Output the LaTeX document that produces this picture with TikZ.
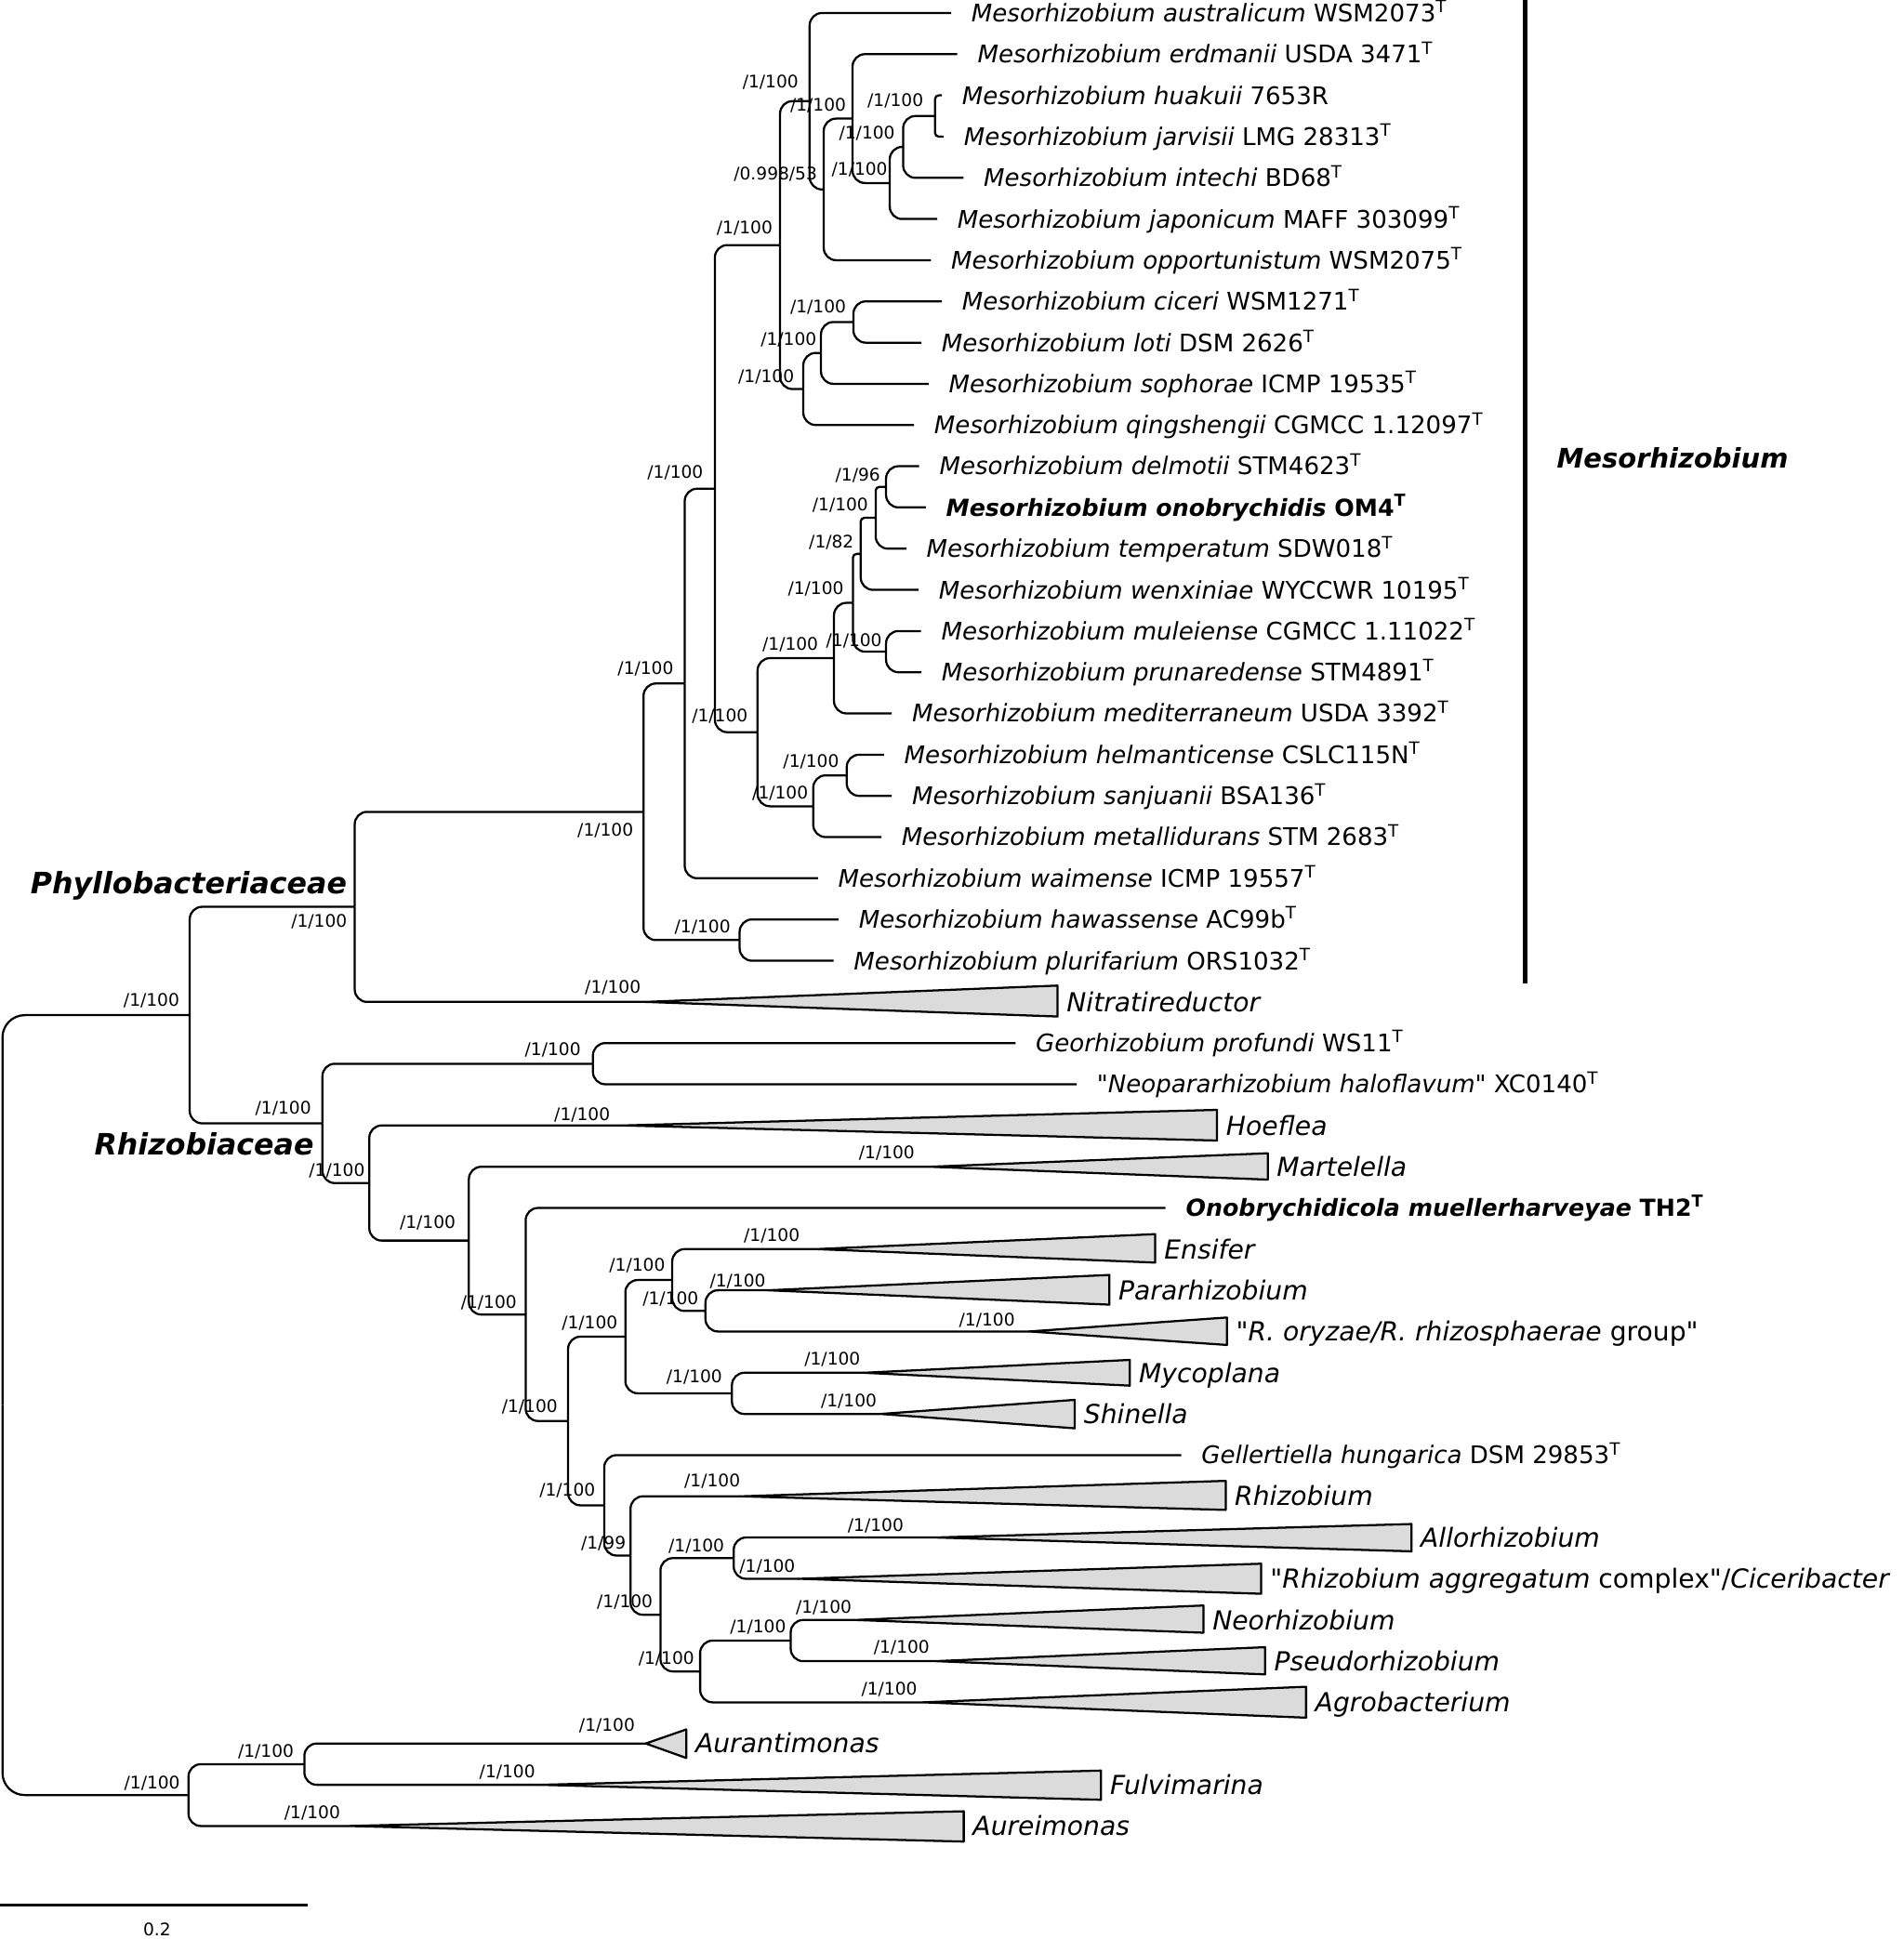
\documentclass[tikz,border=0pt]{standalone}
\usepackage{fontspec}
\setmainfont{DejaVu Sans}
\usetikzlibrary{positioning}

\tikzset{
  branch/.style={line width=0.85pt, rounded corners=5pt},
  twig/.style={line width=0.85pt, rounded corners=1.5pt},
  clade/.style={draw, line width=0.85pt, fill=black!14, line join=round},
  taxon/.style={anchor=west, inner sep=0pt, text height=7.1pt, text depth=0pt, font=\fontsize{9.8}{11}\selectfont},
  strongtaxon/.style={taxon, text height=6.9pt, font=\fontsize{9.5}{11}\selectfont\bfseries},
  cladetaxon/.style={taxon, text height=7.7pt, font=\fontsize{10.6}{12}\selectfont},
  support/.style={inner sep=0pt, text height=5.1pt, text depth=0pt, font=\fontsize{7}{8}\selectfont},
  family/.style={inner sep=0pt, text height=8.7pt, text depth=0pt, font=\fontsize{11.9}{14}\selectfont\bfseries\itshape}
}

% collapsed clade: name, apex x, y, right x, top y, bottom y
\newcommand{\collapsed}[6]{%
  \coordinate (#1) at (#2,#3);
  \coordinate (#1-end) at (#4,#3);
  \draw[clade] (#1) -- (#4,#5) -- (#4,#6) -- cycle;}

\begin{document}
\begin{tikzpicture}[x=0.5pt, y=-0.5pt]
\useasboundingbox (0,0) rectangle (1539,1568);

% internal nodes
\coordinate (root) at (2,1136.2);
\coordinate (n-fam) at (153.4,820.9);
\coordinate (n-phyllo) at (286.8,733.3);
\coordinate (n-meso) at (520.3,656.5);
\coordinate (n-mesoA) at (553.6,552.7);
\coordinate (n-haw) at (598,760.2);
\coordinate (n-mesoB) at (578,395.2);
\coordinate (n-up) at (630.7,198.2);
\coordinate (n-aus) at (654.6,81.8);
\coordinate (n-opp) at (666,153.2);
\coordinate (n-erd) at (689.3,95.9);
\coordinate (n-jap) at (719.4,148);
\coordinate (n-int) at (730.2,118.8);
\coordinate (n-hua) at (756,93.8);
\coordinate (n-qing) at (649.5,314.6);
\coordinate (n-soph) at (663.8,285.4);
\coordinate (n-cic) at (690,260.4);
\coordinate (n-low) at (612.5,592.1);
\coordinate (n-med) at (674.3,532.2);
\coordinate (n-ow) at (689.6,487.5);
\coordinate (n-wen) at (695.9,447.9);
\coordinate (n-tem) at (708,418.7);
\coordinate (n-del) at (716.4,393.7);
\coordinate (n-mul) at (716.4,527);
\coordinate (n-met) at (657.5,652);
\coordinate (n-hel) at (684.6,627);
\coordinate (n-rhizo) at (260.7,908.4);
\coordinate (n-geo) at (479.4,860.2);
\coordinate (n-hoe) at (298.6,956.7);
\coordinate (n-mar) at (379.1,1003.2);
\coordinate (n-ono) at (425,1063);
\coordinate (n-core) at (459.3,1149.1);
\coordinate (n-ens) at (505.6,1080.9);
\coordinate (n-ensA) at (543.5,1035.1);
\coordinate (n-par) at (570.4,1060.1);
\coordinate (n-myc) at (591.8,1126.7);
\coordinate (n-gel) at (488.5,1217.3);
\coordinate (n-rhz) at (509.8,1257.9);
\coordinate (n-all) at (534,1305.8);
\coordinate (n-allo) at (593.2,1260);
\coordinate (n-agro) at (566.1,1351.6);
\coordinate (n-neo) at (639.3,1326.7);
\coordinate (n-aur) at (152.4,1451.6);
\coordinate (n-aura) at (246.1,1426.6);

% tips
\coordinate (t1) at (769,10.5);
\coordinate (t2) at (774,43.8);
\coordinate (t3) at (761.5,77.1);
\coordinate (t4) at (763,110.5);
\coordinate (t5) at (779,143.8);
\coordinate (t6) at (757.7,177.1);
\coordinate (t7) at (752.7,210.4);
\coordinate (t8) at (761.5,243.7);
\coordinate (t9) at (745,277.1);
\coordinate (t10) at (750.8,310.4);
\coordinate (t11) at (739,343.7);
\coordinate (t12) at (743.2,377.0);
\coordinate (t13) at (748.5,410.3);
\coordinate (t14) at (732.7,443.7);
\coordinate (t15) at (742.7,477.0);
\coordinate (t16) at (744.7,510.3);
\coordinate (t17) at (745,543.6);
\coordinate (t18) at (721,576.9);
\coordinate (t19) at (714.7,610.3);
\coordinate (t20) at (721,643.6);
\coordinate (t21) at (712.6,676.9);
\coordinate (t22) at (661.3,710.2);
\coordinate (t23) at (678,743.5);
\coordinate (t24) at (674,776.9);
\coordinate (t26) at (821.1,843.5);
\coordinate (t27) at (870.5,876.8);
\coordinate (t30) at (942.4,976.8);
\coordinate (t36) at (955.1,1176.7);

% branches
\draw[branch, rounded corners=9pt] (root) |- (n-fam);
\draw[branch, rounded corners=9pt] (root) |- (n-aur);
\draw[branch] (n-fam) |- (n-phyllo);
\draw[branch] (n-fam) |- (n-rhizo);
\draw[branch] (n-phyllo) |- (n-meso);
\draw[branch] (n-meso) |- (n-mesoA);
\draw[branch] (n-meso) |- (n-haw);
\draw[branch] (n-haw) |- (t23);
\draw[branch] (n-haw) |- (t24);
\draw[branch] (n-mesoA) |- (n-mesoB);
\draw[branch] (n-mesoA) |- (t22);
\draw[branch] (n-mesoB) |- (n-up);
\draw[branch] (n-mesoB) |- (n-low);
\draw[branch] (n-up) |- (n-aus);
\draw[branch] (n-up) |- (n-qing);
\draw[branch] (n-aus) |- (t1);
\draw[branch] (n-aus) |- (n-opp);
\draw[branch] (n-opp) |- (n-erd);
\draw[branch] (n-opp) |- (t7);
\draw[branch] (n-erd) |- (t2);
\draw[branch] (n-erd) |- (n-jap);
\draw[branch] (n-jap) |- (n-int);
\draw[branch] (n-jap) |- (t6);
\draw[branch] (n-int) |- (n-hua);
\draw[branch] (n-int) |- (t5);
\draw[twig] (n-hua) |- (t3);
\draw[twig] (n-hua) |- (t4);
\draw[branch] (n-qing) |- (n-soph);
\draw[branch] (n-qing) |- (t11);
\draw[branch] (n-soph) |- (n-cic);
\draw[branch] (n-soph) |- (t10);
\draw[branch] (n-cic) |- (t8);
\draw[branch] (n-cic) |- (t9);
\draw[branch] (n-low) |- (n-med);
\draw[branch] (n-low) |- (n-met);
\draw[branch] (n-med) |- (n-ow);
\draw[branch] (n-med) |- (t18);
\draw[twig] (n-ow) |- (n-wen);
\draw[branch] (n-ow) |- (n-mul);
\draw[twig] (n-wen) |- (n-tem);
\draw[branch] (n-wen) |- (t15);
\draw[twig] (n-tem) |- (n-del);
\draw[branch] (n-tem) |- (t14);
\draw[branch] (n-del) |- (t12);
\draw[branch] (n-del) |- (t13);
\draw[branch] (n-mul) |- (t16);
\draw[branch] (n-mul) |- (t17);
\draw[branch] (n-met) |- (n-hel);
\draw[branch] (n-met) |- (t21);
\draw[branch] (n-hel) |- (t19);
\draw[branch] (n-hel) |- (t20);
\draw[branch] (n-rhizo) |- (n-geo);
\draw[branch] (n-rhizo) |- (n-hoe);
\draw[branch] (n-geo) |- (t26);
\draw[branch] (n-geo) |- (t27);
\draw[branch] (n-hoe) |- (n-mar);
\draw[branch] (n-mar) |- (n-ono);
\draw[branch] (n-ono) |- (t30);
\draw[branch] (n-ono) |- (n-core);
\draw[branch] (n-core) |- (n-ens);
\draw[branch] (n-core) |- (n-gel);
\draw[branch] (n-ens) |- (n-ensA);
\draw[branch] (n-ens) |- (n-myc);
\draw[branch] (n-ensA) |- (n-par);
\draw[branch] (n-gel) |- (t36);
\draw[branch] (n-gel) |- (n-rhz);
\draw[branch] (n-rhz) |- (n-all);
\draw[branch] (n-all) |- (n-allo);
\draw[branch] (n-all) |- (n-agro);
\draw[branch] (n-agro) |- (n-neo);
\draw[branch] (n-aur) |- (n-aura);

% collapsed clades
\collapsed{c25}{522}{810.2}{855}{797}{822}
\collapsed{c28}{504}{910.1}{984}{897.5}{922.3}
\collapsed{c29}{752}{943.5}{1025}{932.6}{953.9}
\collapsed{c31}{660}{1010.1}{934}{998}{1021}
\collapsed{c32}{621}{1043.4}{897}{1031}{1055}
\collapsed{c33}{832}{1076.7}{992}{1065.4}{1087.6}
\collapsed{c34}{698.5}{1110.1}{913.5}{1099.7}{1120.5}
\collapsed{c35}{712}{1143.4}{869}{1132}{1155}
\collapsed{c37}{599}{1210}{991}{1197.5}{1221}
\collapsed{c38}{756.5}{1243.3}{1141.3}{1232.4}{1254.5}
\collapsed{c39}{646.3}{1276.7}{1019.7}{1264.5}{1288.8}
\collapsed{c40}{691.4}{1310}{973}{1298.3}{1320.3}
\collapsed{c41}{756.5}{1343.3}{1022.8}{1332}{1354}
\collapsed{c42}{746.5}{1376.6}{1056}{1364}{1389}
\collapsed{c43}{522.1}{1409.9}{554.9}{1398.5}{1421.6}
\collapsed{c44}{437}{1443.3}{890.2}{1431.8}{1455.4}
\collapsed{c45}{281.8}{1476.6}{779.2}{1464.7}{1489.2}

\draw[branch] (n-phyllo) |- (c25);
\draw[branch] (n-hoe) |- (c28);
\draw[branch] (n-mar) |- (c29);
\draw[branch] (n-ensA) |- (c31);
\draw[branch] (n-par) |- (c32);
\draw[branch] (n-par) |- (c33);
\draw[branch] (n-myc) |- (c34);
\draw[branch] (n-myc) |- (c35);
\draw[branch] (n-rhz) |- (c37);
\draw[branch] (n-allo) |- (c38);
\draw[branch] (n-allo) |- (c39);
\draw[branch] (n-neo) |- (c40);
\draw[branch] (n-neo) |- (c41);
\draw[branch] (n-agro) |- (c42);
\draw[branch] (n-aura) |- (c43);
\draw[branch] (n-aura) |- (c44);
\draw[branch] (n-aur) |- (c45);

% taxon labels
\node[taxon, right=8pt of t1] (l1) {\textit{Mesorhizobium australicum} WSM2073\textsuperscript{T}};
\node[taxon, right=8pt of t2] (l2) {\textit{Mesorhizobium erdmanii} USDA 3471\textsuperscript{T}};
\node[taxon, right=8pt of t3] (l3) {\textit{Mesorhizobium huakuii} 7653R};
\node[taxon, right=8pt of t4] (l4) {\textit{Mesorhizobium jarvisii} LMG 28313\textsuperscript{T}};
\node[taxon, right=8pt of t5] (l5) {\textit{Mesorhizobium intechi} BD68\textsuperscript{T}};
\node[taxon, right=8pt of t6] (l6) {\textit{Mesorhizobium japonicum} MAFF 303099\textsuperscript{T}};
\node[taxon, right=8pt of t7] (l7) {\textit{Mesorhizobium opportunistum} WSM2075\textsuperscript{T}};
\node[taxon, right=8pt of t8] (l8) {\textit{Mesorhizobium ciceri} WSM1271\textsuperscript{T}};
\node[taxon, right=8pt of t9] (l9) {\textit{Mesorhizobium loti} DSM 2626\textsuperscript{T}};
\node[taxon, right=8pt of t10] (l10) {\textit{Mesorhizobium sophorae} ICMP 19535\textsuperscript{T}};
\node[taxon, right=8pt of t11] (l11) {\textit{Mesorhizobium qingshengii} CGMCC 1.12097\textsuperscript{T}};
\node[taxon, right=8pt of t12] (l12) {\textit{Mesorhizobium delmotii} STM4623\textsuperscript{T}};
\node[strongtaxon, right=8pt of t13] (l13) {\textit{Mesorhizobium onobrychidis} OM4\textsuperscript{T}};
\node[taxon, right=8pt of t14] (l14) {\textit{Mesorhizobium temperatum} SDW018\textsuperscript{T}};
\node[taxon, right=8pt of t15] (l15) {\textit{Mesorhizobium wenxiniae} WYCCWR 10195\textsuperscript{T}};
\node[taxon, right=8pt of t16] (l16) {\textit{Mesorhizobium muleiense} CGMCC 1.11022\textsuperscript{T}};
\node[taxon, right=8pt of t17] (l17) {\textit{Mesorhizobium prunaredense} STM4891\textsuperscript{T}};
\node[taxon, right=8pt of t18] (l18) {\textit{Mesorhizobium mediterraneum} USDA 3392\textsuperscript{T}};
\node[taxon, right=8pt of t19] (l19) {\textit{Mesorhizobium helmanticense} CSLC115N\textsuperscript{T}};
\node[taxon, right=8pt of t20] (l20) {\textit{Mesorhizobium sanjuanii} BSA136\textsuperscript{T}};
\node[taxon, right=8pt of t21] (l21) {\textit{Mesorhizobium metallidurans} STM 2683\textsuperscript{T}};
\node[taxon, right=8pt of t22] (l22) {\textit{Mesorhizobium waimense} ICMP 19557\textsuperscript{T}};
\node[taxon, right=8pt of t23] (l23) {\textit{Mesorhizobium hawassense} AC99b\textsuperscript{T}};
\node[taxon, right=8pt of t24] (l24) {\textit{Mesorhizobium plurifarium} ORS1032\textsuperscript{T}};
\node[cladetaxon, right=3.5pt of c25-end] (l25) {\textit{Nitratireductor}};
\node[taxon, right=8pt of t26] (l26) {\textit{Georhizobium profundi} WS11\textsuperscript{T}};
\node[taxon, right=8pt of t27] (l27) {\textquotedbl\textit{Neopararhizobium haloflavum}\textquotedbl\ XC0140\textsuperscript{T}};
\node[cladetaxon, right=3.5pt of c28-end] (l28) {\textit{Hoeflea}};
\node[cladetaxon, right=3.5pt of c29-end] (l29) {\textit{Martelella}};
\node[strongtaxon, right=8pt of t30] (l30) {\textit{Onobrychidicola muellerharveyae} TH2\textsuperscript{T}};
\node[cladetaxon, right=3.5pt of c31-end] (l31) {\textit{Ensifer}};
\node[cladetaxon, right=3.5pt of c32-end] (l32) {\textit{Pararhizobium}};
\node[cladetaxon, right=3.5pt of c33-end] (l33) {\textquotedbl\textit{R. oryzae/R. rhizosphaerae} group\textquotedbl};
\node[cladetaxon, right=3.5pt of c34-end] (l34) {\textit{Mycoplana}};
\node[cladetaxon, right=3.5pt of c35-end] (l35) {\textit{Shinella}};
\node[taxon, right=8pt of t36] (l36) {\textit{Gellertiella hungarica} DSM 29853\textsuperscript{T}};
\node[cladetaxon, right=3.5pt of c37-end] (l37) {\textit{Rhizobium}};
\node[cladetaxon, right=3.5pt of c38-end] (l38) {\textit{Allorhizobium}};
\node[cladetaxon, right=3.5pt of c39-end] (l39) {\textquotedbl\textit{Rhizobium aggregatum} complex\textquotedbl/\textit{Ciceribacter}};
\node[cladetaxon, right=3.5pt of c40-end] (l40) {\textit{Neorhizobium}};
\node[cladetaxon, right=3.5pt of c41-end] (l41) {\textit{Pseudorhizobium}};
\node[cladetaxon, right=3.5pt of c42-end] (l42) {\textit{Agrobacterium}};
\node[cladetaxon, right=3.5pt of c43-end] (l43) {\textit{Aurantimonas}};
\node[cladetaxon, right=3.5pt of c44-end] (l44) {\textit{Fulvimarina}};
\node[cladetaxon, right=3.5pt of c45-end] (l45) {\textit{Aureimonas}};

% support values
\node[support] (s-aus) at (623,66) {/1/100};
\node[support] (s-erd) at (661.5,85) {/1/100};
\node[support] (s-hua) at (724,80.7) {/1/100};
\node[support] (s-int) at (701,107) {/1/100};
\node[support] (s-jap) at (695,136.5) {/1/100};
\node[support] (s-opp) at (627,140) {/0.998/53};
\node[support] (s-up) at (602,184) {/1/100};
\node[support] (s-cic) at (661.5,247.5) {/1/100};
\node[support] (s-soph) at (637.6,274) {/1/100};
\node[support] (s-qing) at (619.5,304) {/1/100};
\node[support] (s-mesoB) at (546,382) {/1/100};
\node[support] (s-del) at (693.6,383.8) {/1/96};
\node[support] (s-tem) at (679.4,407.8) {/1/100};
\node[support] (s-wen) at (672.2,437.9) {/1/82};
\node[support] (s-ow) at (659.6,475.4) {/1/100};
\node[support] (s-mul) at (690.5,518) {/1/100};
\node[support] (s-med) at (639,521) {/1/100};
\node[support] (s-low) at (582,578.6) {/1/100};
\node[support] (s-hel) at (655.8,615.7) {/1/100};
\node[support] (s-met) at (630.8,641) {/1/100};
\node[support] (s-mesoA) at (522,540) {/1/100};
\node[support] (s-meso) at (489.5,671.3) {/1/100};
\node[support] (s-haw) at (568,749) {/1/100};
\node[support] (s-phyllo) at (258,744.5) {/1/100};
\node[support] (s-nit) at (495.5,798.3) {/1/100};
\node[support] (s-fam) at (122.5,808.3) {/1/100};
\node[support] (s-rhizo) at (229,895.5) {/1/100};
\node[support] (s-geo) at (447,848.5) {/1/100};
\node[support] (s-hoe) at (272.4,946.4) {/1/100};
\node[support] (s-hoef) at (470.7,901.3) {/1/100};
\node[support] (s-mar) at (345.8,988.2) {/1/100};
\node[support] (s-mart) at (717,931.8) {/1/100};
\node[support] (s-ono) at (395.2,1052.6) {/1/100};
\node[support] (s-core) at (428.3,1137.2) {/1/100};
\node[support] (s-ens) at (476.8,1069.1) {/1/100};
\node[support] (s-ensA) at (515.2,1022.5) {/1/100};
\node[support] (s-ensi) at (624,998.9) {/1/100};
\node[support] (s-par) at (542.2,1049.6) {/1/100};
\node[support] (s-para) at (596.5,1035.3) {/1/100};
\node[support] (s-ory) at (798,1067) {/1/100};
\node[support] (s-myc) at (561.4,1112.9) {/1/100};
\node[support] (s-myco) at (673,1098.4) {/1/100};
\node[support] (s-shin) at (686.3,1132.7) {/1/100};
\node[support] (s-gel) at (458.7,1204.9) {/1/100};
\node[support] (s-rhz) at (487.9,1247.9) {/1/99};
\node[support] (s-rhiz) at (575.9,1197.3) {/1/100};
\node[support] (s-all) at (505.2,1295) {/1/100};
\node[support] (s-allo) at (563.1,1250) {/1/100};
\node[support] (s-allor) at (708,1232.9) {/1/100};
\node[support] (s-aggr) at (620.4,1266.7) {/1/100};
\node[support] (s-agro) at (538.8,1340.9) {/1/100};
\node[support] (s-neo) at (612.9,1315.1) {/1/100};
\node[support] (s-neor) at (666,1299.5) {/1/100};
\node[support] (s-pseu) at (729,1331.9) {/1/100};
\node[support] (s-agrob) at (719,1365.2) {/1/100};
\node[support] (s-aura) at (215,1415.8) {/1/100};
\node[support] (s-auran) at (490.8,1395.2) {/1/100};
\node[support] (s-fulv) at (410.2,1432.3) {/1/100};
\node[support] (s-aurei) at (252.5,1465.4) {/1/100};
\node[support] (s-aur) at (123,1441.6) {/1/100};

% families and genus bar
\node[family] (phyllobacteriaceae) at (152.5,713.9) {Phyllobacteriaceae};
\node[family] (rhizobiaceae) at (165,925.6) {Rhizobiaceae};
\coordinate (bar-top) at (1233,0);
\coordinate (bar-bot) at (1233,795);
\draw[line width=2.1pt] (bar-top) -- (bar-bot);
\node[family, text height=8pt, font=\fontsize{10.9}{13}\selectfont\bfseries\itshape] (mesorhizobium) at (1352.3,370.2) {Mesorhizobium};

% scale bar
\coordinate (sb-l) at (0,1540.5);
\coordinate (sb-r) at (249,1540.5);
\draw[line width=0.85pt] (sb-l) -- (sb-r);
\node[support] (sb-lab) at (127,1560.6) {0.2};
\end{tikzpicture}
\end{document}
